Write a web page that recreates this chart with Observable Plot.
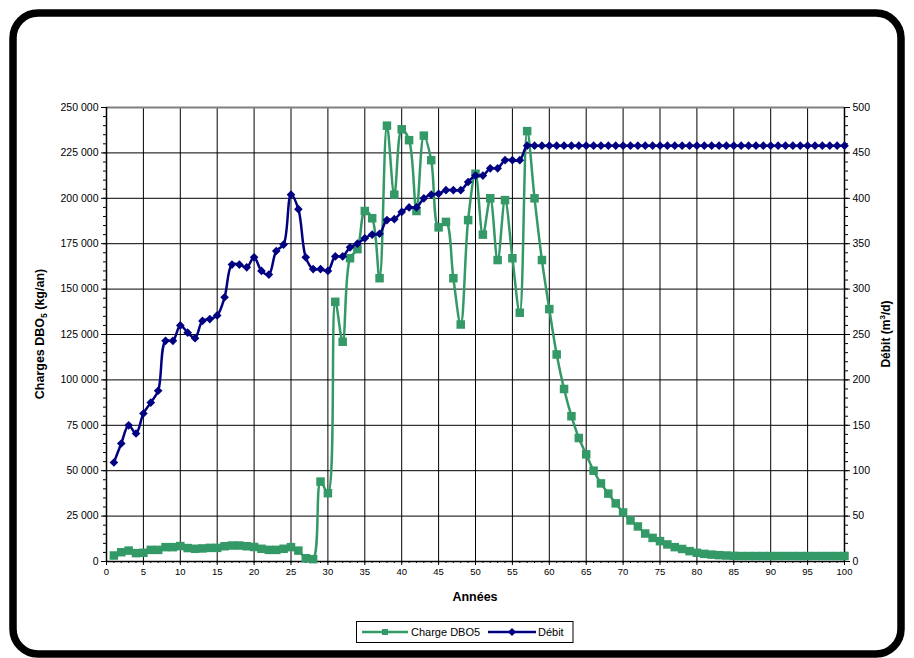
<!DOCTYPE html>
<html>
<head>
<meta charset="utf-8">
<script src="https://cdn.jsdelivr.net/npm/d3@7"></script>
<script src="https://cdn.jsdelivr.net/npm/@observablehq/plot@0.6"></script>
<style>
  html, body { margin: 0; padding: 0; background: #fff; }
  svg { font-family: Arial, "Liberation Sans", sans-serif; display: block; }
</style>
</head>
<body>
<div id="chart"></div>
<script>
// ---- Data ----
const years = [1,2,3,4,5,6,7,8,9,10,11,12,13,14,15,16,17,18,19,20,21,22,23,24,25,26,27,28,29,30,31,32,33,34,35,36,37,38,39,40,41,42,43,44,45,46,47,48,49,50,51,52,53,54,55,56,57,58,59,60,61,62,63,64,65,66,67,68,69,70,71,72,73,74,75,76,77,78,79,80,81,82,83,84,85,86,87,88,89,90,91,92,93,94,95,96,97,98,99,100];

// Charge DBO5 (kg/an)
const chargeDBO5 = [3300,5100,6000,4600,4800,6400,6400,7900,7900,8500,7400,7000,7200,7500,7500,8400,8800,8800,8400,8000,7000,6400,6400,7000,7900,6000,1800,1300,44000,37600,143000,121000,167000,172000,193000,189000,156000,240000,202000,238000,232000,193000,234500,221000,184000,187000,156000,130500,188000,213500,180000,200000,166000,199000,167000,137000,237000,200000,166000,139000,114000,95000,80000,68000,59000,50000,43000,37400,32000,27000,22600,19300,15400,13000,11200,9400,7900,6900,5700,4800,4200,3800,3500,3300,3100,3000,3000,3000,3000,3000,3000,3000,3000,3000,3000,3000,3000,3000,3000,3000];

// Débit (m3/d)
const debit = [109,130,150,141,163,175,188,243,243,260,252,246,265,267,271,291,327,327,324,335,320,316,342,349,404,388,335,322,322,320,336,336,346,350,356,360,361,376,377,385,390,390,400,404,405,409,409,409,418,425,425,433,433,442,442,442,458,458,458,458,458,458,458,458,458,458,458,458,458,458,458,458,458,458,458,458,458,458,458,458,458,458,458,458,458,458,458,458,458,458,458,458,458,458,458,458,458,458,458,458];

const seriesNames = ["Charge DBO5", "Débit"];
const seriesColors = ["#339966", "#000080"];

const xTicks = [0,5,10,15,20,25,30,35,40,45,50,55,60,65,70,75,80,85,90,95,100];
const xMinorTicks = d3.range(0, 101, 1);
const leftTicks = [0,25000,50000,75000,100000,125000,150000,175000,200000,225000,250000];
const rightTicks = [0,50,100,150,200,250,300,350,400,450,500];
const yMinorTicks = d3.range(0, 250001, 5000);

const leftTitle = ["Charges DBO", "5", " (kg/an)"];
const rightTitle = ["Débit (m", "3", "/d)"];
const xTitle = "Années";

// ---- Build tables ----
const ratio = leftTicks[leftTicks.length - 1] / rightTicks[rightTicks.length - 1];
const chargeData = years.map((y, i) => ({year: y, value: chargeDBO5[i]}));
const debitData = years.map((y, i) => ({year: y, value: debit[i] * ratio}));
const fmtLeft = d => d3.format(",")(d).replace(/,/g, " ");

const W = 914, H = 658;
const mL = 106, mR = 70, mT = 107, mB = 97;

const plot = Plot.plot({
  width: W, height: H,
  marginLeft: mL, marginRight: mR, marginTop: mT, marginBottom: mB,
  style: {fontFamily: "Arial, 'Liberation Sans', sans-serif", color: "#000", background: "transparent", overflow: "visible"},
  x: {domain: [0, 100], label: null},
  y: {domain: [0, 250000], label: null},
  marks: [
    Plot.gridX(xTicks, {stroke: "#000", strokeOpacity: 1, strokeWidth: 1}),
    Plot.gridY(leftTicks, {stroke: "#000", strokeOpacity: 1, strokeWidth: 1}),
    Plot.ruleY([250000], {stroke: "#808080", strokeWidth: 2}),
    // minor ticks
    Plot.axisX(xMinorTicks, {tickSize: 2, tickFormat: () => "", label: null}),
    Plot.axisY(yMinorTicks, {anchor: "left", tickSize: 3, tickFormat: () => "", label: null}),
    Plot.axisY(yMinorTicks, {anchor: "right", tickSize: 3, tickFormat: () => "", label: null}),
    // major axes
    Plot.axisX(xTicks, {tickSize: 4, tickPadding: 3, fontSize: 9.5, label: null}),
    Plot.axisY(leftTicks, {anchor: "left", tickSize: 5, tickPadding: 3, fontSize: 10.5, tickFormat: fmtLeft, label: null}),
    Plot.axisY(leftTicks, {anchor: "right", tickSize: 5, tickPadding: 3, fontSize: 10.5, tickFormat: d => d / ratio, label: null}),
    Plot.ruleX([0], {stroke: "#000", strokeWidth: 1.5}),
    Plot.ruleX([100], {stroke: "#000", strokeWidth: 1.5}),
    Plot.ruleY([0], {stroke: "#000", strokeWidth: 1.5}),
    // series
    Plot.line(chargeData, {x: "year", y: "value", stroke: seriesColors[0], strokeWidth: 2.5, curve: "catmull-rom"}),
    Plot.dot(chargeData, {x: "year", y: "value", symbol: "square", r: 4.8, fill: seriesColors[0], stroke: "none"}),
    Plot.line(debitData, {x: "year", y: "value", stroke: seriesColors[1], strokeWidth: 2.5, curve: "catmull-rom"}),
    Plot.dot(debitData, {x: "year", y: "value", symbol: "diamond2", r: 3.9, fill: seriesColors[1], stroke: "none"})
  ]
});

document.getElementById("chart").appendChild(plot);

// ---- Decorations: titles, legend, outer frame ----
const svg = d3.select(plot);
svg.insert("rect", ":first-child")
  .attr("x", 0).attr("y", 0).attr("width", W).attr("height", H).attr("fill", "#fff");

const plotMidY = (mT + (H - mB)) / 2;

const lt = svg.append("text")
  .attr("transform", `translate(44,${plotMidY}) rotate(-90)`)
  .attr("text-anchor", "middle")
  .attr("font-weight", "bold").attr("font-size", 12.5).attr("fill", "#000");
lt.append("tspan").text(leftTitle[0]);
lt.append("tspan").attr("font-size", 8.5).attr("dy", 3).text(leftTitle[1]);
lt.append("tspan").attr("dy", -3).text(leftTitle[2]);

const rt = svg.append("text")
  .attr("transform", `translate(890,${plotMidY}) rotate(-90)`)
  .attr("text-anchor", "middle")
  .attr("font-weight", "bold").attr("font-size", 12).attr("fill", "#000");
rt.append("tspan").text(rightTitle[0]);
rt.append("tspan").attr("font-size", 8).attr("dy", -5).text(rightTitle[1]);
rt.append("tspan").attr("dy", 5).text(rightTitle[2]);

svg.append("text")
  .attr("x", (mL + (W - mR)) / 2).attr("y", 601)
  .attr("text-anchor", "middle")
  .attr("font-weight", "bold").attr("font-size", 12.5).attr("fill", "#000")
  .text(xTitle);

// legend
const lg = svg.append("g");
lg.append("rect").attr("x", 356.5).attr("y", 621.5).attr("width", 216.5).attr("height", 21)
  .attr("fill", "#fff").attr("stroke", "#000").attr("stroke-width", 1);
const legendItems = [
  {name: seriesNames[0], color: seriesColors[0], x0: 362, x1: 408, tx: 411, sym: d3.symbolSquare, size: 36},
  {name: seriesNames[1], color: seriesColors[1], x0: 488, x1: 536, tx: 538, sym: d3.symbolDiamond2, size: 40}
];
legendItems.forEach(it => {
  lg.append("line").attr("x1", it.x0).attr("x2", it.x1).attr("y1", 632).attr("y2", 632)
    .attr("stroke", it.color).attr("stroke-width", 2.5);
  lg.append("path").attr("d", d3.symbol(it.sym, it.size)())
    .attr("transform", `translate(${(it.x0 + it.x1) / 2},632)`).attr("fill", it.color);
  lg.append("text").attr("x", it.tx).attr("y", 632).attr("dy", "0.35em")
    .attr("text-anchor", "start")
    .attr("font-size", 11).attr("fill", "#000").text(it.name);
});

// outer rounded frame
svg.append("rect")
  .attr("x", 13).attr("y", 13).attr("width", 888).attr("height", 641)
  .attr("rx", 25).attr("ry", 25)
  .attr("fill", "none").attr("stroke", "#000").attr("stroke-width", 7.5);
</script>
</body>
</html>
